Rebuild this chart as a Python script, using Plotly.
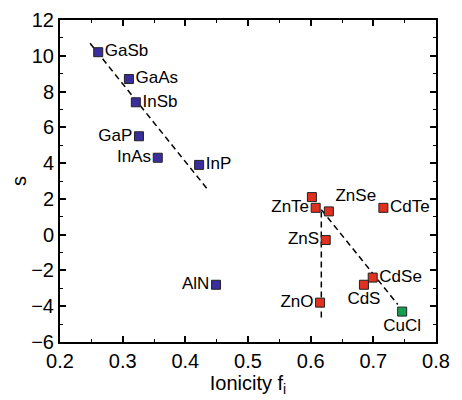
import plotly.graph_objects as go

# III-V compounds (blue)
iii_v_names = ['GaSb', 'GaAs', 'InSb', 'GaP', 'InAs', 'InP', 'AlN']
iii_v_fi = [0.261, 0.310, 0.321, 0.326, 0.356, 0.422, 0.449]
iii_v_s = [10.2, 8.7, 7.4, 5.5, 4.3, 3.9, -2.8]

# II-VI compounds (red)
ii_vi_names = ['ZnTe', 'ZnSe', 'ZnS', 'ZnO', 'CdTe', 'CdSe', 'CdS']
ii_vi_fi = [0.608, 0.629, 0.624, 0.615, 0.716, 0.699, 0.685]
ii_vi_s = [1.5, 1.3, -0.3, -3.8, 1.5, -2.4, -2.8]
# extra unlabelled II-VI point
ii_vi_extra_fi = [0.602]
ii_vi_extra_s = [2.1]

# I-VII (green)
i_vii_names = ['CuCl']
i_vii_fi = [0.746]
i_vii_s = [-4.3]

# guide lines
fit1_fi = [0.248, 0.434]
fit1_s = [10.7, 2.6]
fit2_fi = [0.617, 0.739]
fit2_s = [1.4, -3.9]
fit3_fi = [0.617, 0.617]
fit3_s = [1.3, -4.85]

label_pos_iii_v = ['middle right', 'middle right', 'middle right', 'middle left',
                   'middle left', 'middle right', 'middle left']
label_pos_ii_vi = ['middle left', 'top right', 'middle left',
                   'middle left', 'middle right', 'middle right', 'bottom center']

fig = go.Figure()

for fx, fy in [(fit1_fi, fit1_s), (fit2_fi, fit2_s), (fit3_fi, fit3_s)]:
    fig.add_trace(go.Scatter(x=fx, y=fy, mode='lines',
                             line=dict(color='black', width=1.5, dash='6px,4px'),
                             hoverinfo='skip'))

marker_common = dict(symbol='square', size=9, line=dict(color='#222222', width=1))
label_font = dict(size=17, color='black')

fig.add_trace(go.Scatter(
    x=iii_v_fi, y=iii_v_s, mode='markers+text', text=iii_v_names,
    textposition=label_pos_iii_v, textfont=label_font,
    marker=dict(color='#3a2e9c', **marker_common)))

fig.add_trace(go.Scatter(
    x=ii_vi_extra_fi, y=ii_vi_extra_s, mode='markers',
    marker=dict(color='#e03020', **marker_common)))

fig.add_trace(go.Scatter(
    x=ii_vi_fi, y=ii_vi_s, mode='markers+text', text=ii_vi_names,
    textposition=label_pos_ii_vi, textfont=label_font,
    marker=dict(color='#e03020', **marker_common)))

fig.add_trace(go.Scatter(
    x=i_vii_fi, y=i_vii_s, mode='markers+text', text=i_vii_names,
    textposition='bottom center', textfont=label_font,
    marker=dict(color='#14a050', **marker_common)))

axis_common = dict(
    showline=True, linecolor='black', linewidth=2, mirror='ticks',
    ticks='inside', ticklen=6, tickwidth=1.5, tickcolor='black',
    showgrid=False, zeroline=False, automargin=False,
    tickfont=dict(size=20, color='black'),
)

fig.update_layout(
    width=454, height=392,
    paper_bgcolor='white', plot_bgcolor='white',
    font=dict(family='Liberation Sans, Arial', color='black'),
    showlegend=False,
    margin=dict(l=52, r=26, t=12, b=58),
    xaxis=dict(range=[0.2, 0.8], dtick=0.1, tickformat='.1f',
               minor=dict(dtick=0.05, ticks='inside', ticklen=3, tickwidth=1, tickcolor='black'),
               title=dict(text='Ionicity f<sub>i</sub>', font=dict(size=20), standoff=4),
               **axis_common),
    yaxis=dict(range=[-6, 12], dtick=2,
               minor=dict(dtick=1, ticks='inside', ticklen=3, tickwidth=1, tickcolor='black'),
               title=dict(text='s', font=dict(size=20), standoff=12),
               **axis_common),
)

fig.write_html("out.html")
